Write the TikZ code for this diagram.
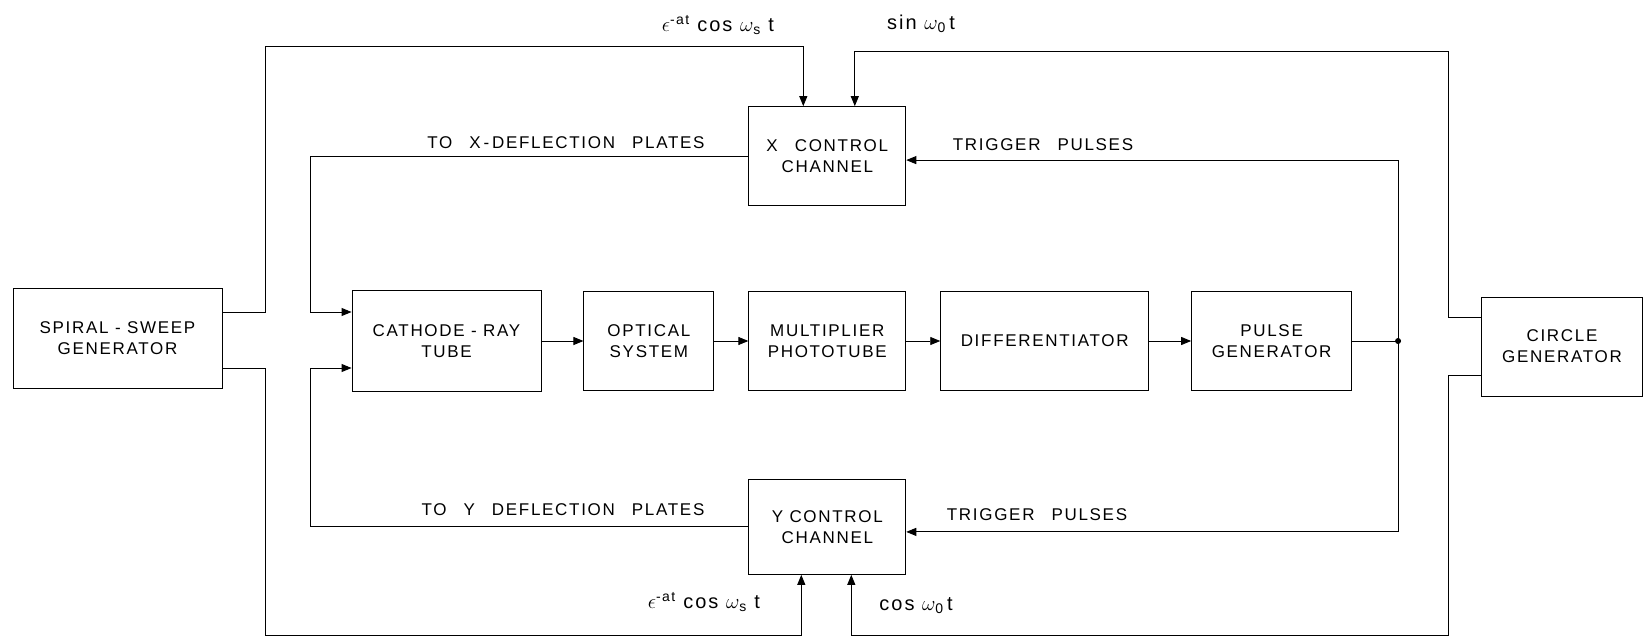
\documentclass[tikz,border=0pt]{standalone}
\usepackage{fontspec}
\setmainfont[LetterSpace=10]{Liberation Sans}
\usetikzlibrary{positioning, arrows.meta, calc}

\newcommand{\sigcos}[1]{$\epsilon$\textsuperscript{-at} cos $\omega$\textsubscript{#1} t}

\begin{document}
\begin{tikzpicture}[
  x=1pt, y=-1pt,
  font=\fontsize{17}{21}\selectfont,
  blk/.style={draw, line width=0.9pt, minimum height=99pt, inner sep=0pt,
              align=center},
  sig/.style={font=\fontsize{20}{24}\selectfont},
  arr/.style={-{Triangle[length=10pt, width=8pt]}, line width=0.9pt},
  wire/.style={line width=0.9pt}
]
\useasboundingbox (0,0) rectangle (1644,637);

% main chain
\node[blk, minimum width=189pt, minimum height=101pt] (crt) at (446.5,341)
  {CATHODE - RAY\\TUBE};
\node[blk, minimum width=130pt, right=42pt of crt] (opt) {OPTICAL\\SYSTEM};
\node[blk, minimum width=157pt, right=34pt of opt] (mpt) {MULTIPLIER\\PHOTOTUBE};
\node[blk, minimum width=208pt, right=34pt of mpt] (dif) {DIFFERENTIATOR};
\node[blk, minimum width=160pt, right=42pt of dif] (pgen) {PULSE\\GENERATOR};

% control channels
\node[blk, minimum width=157pt, above=85pt of mpt] (xch) {X\quad CONTROL\\CHANNEL};
\node[blk, minimum width=157pt, minimum height=95pt, below=88pt of mpt] (ych)
  {Y CONTROL\\CHANNEL};

% generators
\node[blk, minimum width=209pt, minimum height=100pt] (ssg) at (117.5,338)
  {SPIRAL - SWEEP\\GENERATOR};
\node[blk, minimum width=161pt] (cgen) at (1562,346.5) {CIRCLE\\GENERATOR};

\coordinate (jn) at ($(pgen.east)+(46,0)$);
\coordinate (xin1) at ($(xch.north)+(-24,0)$);
\coordinate (xin2) at ($(xch.north)+(27.5,0)$);
\coordinate (yin1) at ($(ych.south)+(-26,0)$);
\coordinate (yin2) at ($(ych.south)+(24,0)$);

\draw[arr] (crt) -- (opt);
\draw[arr] (opt) -- (mpt);
\draw[arr] (mpt) -- (dif);
\draw[arr] (dif) -- (pgen);
\draw[wire] (pgen) -- (jn);
\fill (jn) circle (3pt);

% trigger pulses
\draw[arr] (jn) |- ([yshift=-4pt]xch.east);
\draw[arr] (jn) |- ([yshift=-5pt]ych.east);

% deflection plates
\draw[arr] (xch.west) -| ($(crt.west)+(-41,-29)$) -- ([yshift=29pt]crt.west);
\draw[arr] (ych.west) -| ($(crt.west)+(-41,27)$) -- ([yshift=-27pt]crt.west);

% sweep and circle signals
\draw[arr] ([yshift=26pt]ssg.east) -- ++(43,0) |- ($(xin1)+(0,-60)$) -- (xin1);
\draw[arr] ([yshift=29.5pt]cgen.west) -- ++(-33,0) |- ($(xin2)+(0,-55)$) -- (xin2);
\draw[arr] ([yshift=-30pt]ssg.east) -- ++(43,0) |- ($(yin1)+(0,61)$) -- (yin1);
\draw[arr] ([yshift=-28.5pt]cgen.west) -- ++(-33,0) |- ($(yin2)+(0,61)$) -- (yin2);

% labels
\node (lblx) at (566,143) {TO\quad X\,-\,DEFLECTION\quad PLATES};
\node (lbly) at (563,510) {TO\quad Y\quad DEFLECTION\quad PLATES};
\node (trgx) at (1043,145) {TRIGGER\quad PULSES};
\node (trgy) at (1037,515) {TRIGGER\quad PULSES};
\node[sig] (sigxa) at (718,25) {\sigcos{s}};
\node[sig] (sigxb) at (921,24) {sin $\omega$\textsubscript{0}\,t};
\node[sig] (sigya) at (704,602) {\sigcos{s}};
\node[sig] (sigyb) at (916,606) {cos $\omega$\textsubscript{0}\,t};
\end{tikzpicture}
\end{document}
